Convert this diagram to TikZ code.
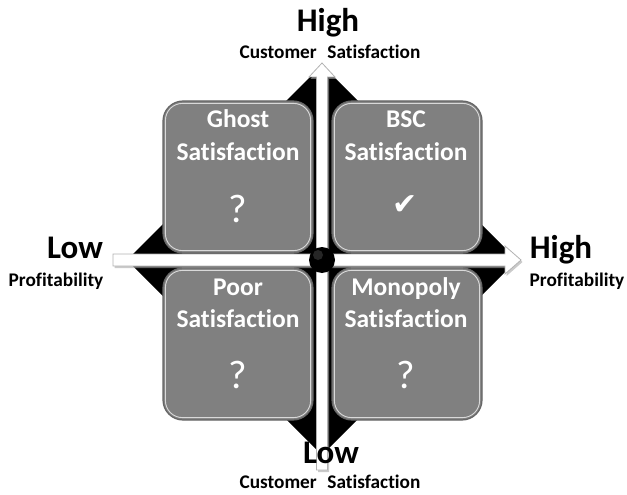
\documentclass[tikz,border=0pt]{standalone}
\usepackage{fontspec}
\setmainfont{Carlito}[Ligatures={NoCommon,NoRare,NoDiscretionary}]
\newfontfamily\symfont{DejaVu Sans}
\usetikzlibrary{calc}
\begin{document}
\begin{tikzpicture}[x=1pt,y=-1pt,
  quad/.style={draw=black!60, line width=1.2pt, fill=black!50, rounded corners=20pt, minimum width=150pt, minimum height=152pt, inner sep=0pt},
  big/.style={font=\bfseries\fontsize{33}{36}\selectfont, anchor=base, inner sep=0pt},
  small/.style={font=\bfseries\fontsize{19.3}{22}\selectfont, anchor=base, inner sep=0pt},
  boxtxt/.style={font=\bfseries\fontsize{25.5}{30}\selectfont, text=white, anchor=base, inner sep=0pt},
  qmark/.style={font=\fontsize{40}{44}\selectfont, text=white, anchor=base, inner sep=0pt},
  tick/.style={font=\symfont\fontsize{30}{34}\selectfont, text=white, inner sep=0pt},
  axis/.style={fill=white, draw=black!30, line width=0.8pt},
  axshadow/.style={fill=black!35, draw=none, opacity=0.6},
  gloss/.style={draw=white!85!black, line width=0.9pt, rounded corners=17pt}]
\useasboundingbox (0,0) rectangle (627,495);
% background diamond
\fill[black] (322,65) coordinate (dt) -- (517,260) coordinate (dr) -- (322,455) coordinate (db) -- (127,260) coordinate (dl) -- cycle;
% quadrant boxes
\node[quad] (g) at (238,177) {};
\node[quad] (b) at (407,177) {};
\node[quad] (p) at (238,344) {};
\node[quad] (m) at (407,344) {};
\foreach \q in {g,b,p,m}{
  \draw[gloss] ($(\q.south west)+(3,-3)$) rectangle ($(\q.north east)+(-3,3)$);
}
% axes (shadow then body)
\begin{scope}[shift={(1.5,2)}]
\fill[axshadow] (113,254) -- (505,254) -- (505,246) -- (521,260) -- (505,274) -- (505,266) -- (113,266) -- cycle;
\fill[axshadow] (316.5,470) -- (316.5,77) -- (309,77) -- (322,63) -- (335,77) -- (327.5,77) -- (327.5,470) -- cycle;
\end{scope}
\coordinate (hl) at (113,260);
\coordinate (hr) at (521,260);
\coordinate (vb) at (322,470);
\coordinate (vt) at (322,63);
\draw[axis] ($(hl)+(0,-6)$) -- (505,254) -- (505,246) -- (hr) -- (505,274) -- (505,266) -- ($(hl)+(0,6)$) -- cycle;
\draw[axis] ($(vb)+(-5.5,0)$) -- (316.5,77) -- (309,77) -- (vt) -- (335,77) -- (327.5,77) -- ($(vb)+(5.5,0)$) -- cycle;
% centre dot
\node[circle, fill=black, minimum size=26pt, inner sep=0pt] (c) at (322,260) {};
\fill[white, opacity=0.15] (318,255) circle (5pt);
% axis labels
\node[big] (th) at (328,32) {High};
\node[small] (tc) at (330,59) {Customer\hspace{0.55em}Satisfaction};
\node[big] (ll) at (75,258) {Low};
\node[small] (lp) at (56,286) {Profitability};
\node[big] (rh) at (561,258) {High};
\node[small] (rp) at (577,286) {Profitability};
\node[big] (bl) at (331,463) {Low};
\node[small] (bc) at (330,488) {Customer\hspace{0.55em}Satisfaction};
% box texts
\node[boxtxt] (g1) at (238,128) {Ghost};
\node[boxtxt] (g2) at (238,160) {Satisfaction};
\node[qmark] (g3) at (238,222) {?};
\node[boxtxt] (b1) at (406,128) {BSC};
\node[boxtxt] (b2) at (406,160) {Satisfaction};
\node[tick] (b3) at (405,205) {✔};
\node[boxtxt] (p1) at (238,295) {Poor};
\node[boxtxt] (p2) at (238,327) {Satisfaction};
\node[qmark] (p3) at (238,388) {?};
\node[boxtxt] (m1) at (406,295) {Monopoly};
\node[boxtxt] (m2) at (406,327) {Satisfaction};
\node[qmark] (m3) at (406,388) {?};
\end{tikzpicture}
\end{document}
